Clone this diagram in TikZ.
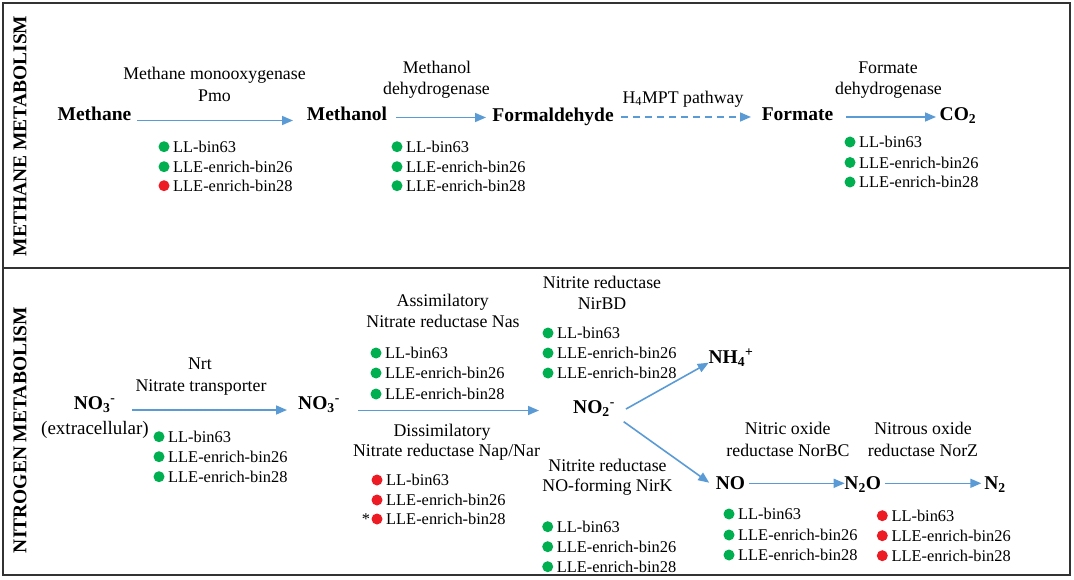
\documentclass[tikz,border=0pt]{standalone}
\usepackage{fontspec}
\setmainfont{Liberation Serif}
\usetikzlibrary{arrows.meta}
\definecolor{arrblue}{RGB}{91,155,213}
\definecolor{dotgreen}{RGB}{0,176,80}
\definecolor{dotred}{RGB}{237,28,36}
\definecolor{framegray}{RGB}{50,50,50}
\newcommand\binrow[5]{%
  \node[bdot,fill=#4] (#1d) at (#2,#3) {};
  \node[btext] (#1t) at (#2+9,#3) {#5};
}
\tikzset{
  lab/.style={inner sep=0pt, text height=12.1pt, text depth=0pt, font=\fontsize{17.8}{20}\selectfont},
  chem/.style={inner sep=0pt, text height=13.3pt, text depth=0pt, font=\fontsize{19.5}{22}\selectfont\bfseries},
  btext/.style={anchor=west, inner sep=0pt, text height=11.2pt, text depth=0pt, font=\fontsize{16.4}{19}\selectfont},
  bdot/.style={circle, inner sep=0pt, minimum size=11pt, draw=none},
  arr/.style={draw=arrblue, line width=1.6pt, -{Triangle[length=11pt,width=9pt]}},
  side/.style={rotate=90, inner sep=0pt, font=\fontsize{19.5}{22}\selectfont\bfseries},
}
\begin{document}
\begin{tikzpicture}[x=1pt,y=-1pt]
\useasboundingbox (0,0) rectangle (1074,580);
\draw[framegray, line width=2pt] (3,3) rectangle (1070,575);
\draw[framegray, line width=2pt] (3,268) -- (1070,268);

% side labels
\node[side] (sideM) at (20,136) {METHANE METABOLISM};
\node[side] (sideN) at (20,430) {NITROGEN METABOLISM};

% ---------- methane metabolism ----------
\node[chem] (methane) at (94.5,114) {Methane};
\node[chem] (methanol) at (347,114) {Methanol};
\node[chem] (formald) at (553,115) {Formaldehyde};
\node[chem] (formate) at (797.5,114) {Formate};
\node[chem] (co2) at (958,114) {CO\textsubscript{2}};

\node[lab] (e1a) at (214.5,73) {Methane monooxygenase};
\node[lab] (e1b) at (214.5,95) {Pmo};
\node[lab] (e2a) at (437,67) {Methanol};
\node[lab] (e2b) at (436.5,88) {dehydrogenase};
\node[lab] (e3a) at (683,97) {H\textsubscript{4}MPT pathway};
\node[lab] (e4a) at (888,67) {Formate};
\node[lab] (e4b) at (888.5,88) {dehydrogenase};

\draw[arr] ([shift={(42.5,6.5)}]methane.center) -- ([shift={(-54,6.5)}]methanol.center);
\draw[arr] ([shift={(49,3.5)}]methanol.center) -- ([shift={(-67,2.5)}]formald.center);
\draw[arr, dash pattern=on 7pt off 5pt] ([shift={(68,2)}]formald.center) -- ([shift={(-46.5,3)}]formate.center);
\draw[arr] ([shift={(48.5,3)}]formate.center) -- ([shift={(-22,3)}]co2.center);

\binrow{b1a}{164}{146.7}{dotgreen}{LL-bin63}
\binrow{b1b}{164}{166.7}{dotgreen}{LLE-enrich-bin26}
\binrow{b1c}{164}{185.7}{dotred}{LLE-enrich-bin28}
\binrow{b2a}{397}{146.7}{dotgreen}{LL-bin63}
\binrow{b2b}{397}{166.7}{dotgreen}{LLE-enrich-bin26}
\binrow{b2c}{397}{185.7}{dotgreen}{LLE-enrich-bin28}
\binrow{b4a}{850}{142}{dotgreen}{LL-bin63}
\binrow{b4b}{850}{162.5}{dotgreen}{LLE-enrich-bin26}
\binrow{b4c}{850}{182}{dotgreen}{LLE-enrich-bin28}

% ---------- nitrogen metabolism ----------
\node[chem] (no3ext) at (94.7,403) {NO\textsubscript{3}\textsuperscript{-}};
\node[lab, font=\fontsize{19}{22}\selectfont, text height=12.9pt] (extra) at (95,428) {(extracellular)};
\node[chem] (no3) at (319,403) {NO\textsubscript{3}\textsuperscript{-}};
\node[chem] (no2) at (594,407) {NO\textsubscript{2}\textsuperscript{-}};
\node[chem] (nh4) at (731,357) {NH\textsubscript{4}\textsuperscript{+}};
\node[chem] (no) at (730.5,482.7) {NO};
\node[chem] (n2o) at (862.7,482.7) {N\textsubscript{2}O};
\node[chem] (n2) at (995,482.7) {N\textsubscript{2}};

\node[lab] (nrta) at (200,363) {Nrt};
\node[lab] (nrtb) at (201,385) {Nitrate transporter};
\node[lab] (nasa) at (442.7,300) {Assimilatory};
\node[lab] (nasb) at (443,321) {Nitrate reductase Nas};
\node[lab] (napa) at (442,430) {Dissimilatory};
\node[lab] (napb) at (446.5,450) {Nitrate reductase Nap/Nar};
\node[lab] (nirba) at (602,282) {Nitrite reductase};
\node[lab] (nirbb) at (602,303) {NirBD};
\node[lab] (nirka) at (607.5,465) {Nitrite reductase};
\node[lab] (nirkb) at (607.5,485) {NO-forming NirK};
\node[lab] (norba) at (787.7,428) {Nitric oxide};
\node[lab] (norbb) at (788,450) {reductase NorBC};
\node[lab] (norza) at (923,428) {Nitrous oxide};
\node[lab] (norzb) at (923,450) {reductase NorZ};

\draw[arr] ([shift={(37.5,7)}]no3ext.center) -- ([shift={(-32,7)}]no3.center);
\draw[arr] ([shift={(39,7.5)}]no3.center) -- ([shift={(-55,3.5)}]no2.center);
\draw[arr] ([shift={(32,2)}]no2.center) -- ([shift={(-22.3,5.7)}]nh4.center);
\draw[arr] ([shift={(29.7,14.7)}]no2.center) -- ([shift={(-21.3,0)}]no.center);
\draw[arr] ([shift={(18.5,0.6)}]no.center) -- ([shift={(-18,0.6)}]n2o.center);
\draw[arr] ([shift={(22,0.6)}]n2o.center) -- ([shift={(-13.7,0.6)}]n2.center);

\binrow{b5a}{159}{436.7}{dotgreen}{LL-bin63}
\binrow{b5b}{159}{456.7}{dotgreen}{LLE-enrich-bin26}
\binrow{b5c}{159}{476.7}{dotgreen}{LLE-enrich-bin28}
\binrow{b6a}{376}{353}{dotgreen}{LL-bin63}
\binrow{b6b}{376}{373}{dotgreen}{LLE-enrich-bin26}
\binrow{b6c}{376}{394}{dotgreen}{LLE-enrich-bin28}
\binrow{b7a}{377}{480}{dotred}{LL-bin63}
\binrow{b7b}{377}{500}{dotred}{LLE-enrich-bin26}
\binrow{b7c}{377}{519}{dotred}{LLE-enrich-bin28}
\node[btext, anchor=center] (star) at (366,519) {*};
\binrow{b8a}{548}{333}{dotgreen}{LL-bin63}
\binrow{b8b}{548}{353}{dotgreen}{LLE-enrich-bin26}
\binrow{b8c}{548}{373}{dotgreen}{LLE-enrich-bin28}
\binrow{b9a}{547.7}{526.7}{dotgreen}{LL-bin63}
\binrow{b9b}{547.7}{546.7}{dotgreen}{LLE-enrich-bin26}
\binrow{b9c}{547.7}{566.7}{dotgreen}{LLE-enrich-bin28}
\binrow{b10a}{729}{514}{dotgreen}{LL-bin63}
\binrow{b10b}{729}{535}{dotgreen}{LLE-enrich-bin26}
\binrow{b10c}{729}{555}{dotgreen}{LLE-enrich-bin28}
\binrow{b11a}{882.3}{515.7}{dotred}{LL-bin63}
\binrow{b11b}{882.3}{535.7}{dotred}{LLE-enrich-bin26}
\binrow{b11c}{882.3}{555.7}{dotred}{LLE-enrich-bin28}
\end{tikzpicture}
\end{document}
